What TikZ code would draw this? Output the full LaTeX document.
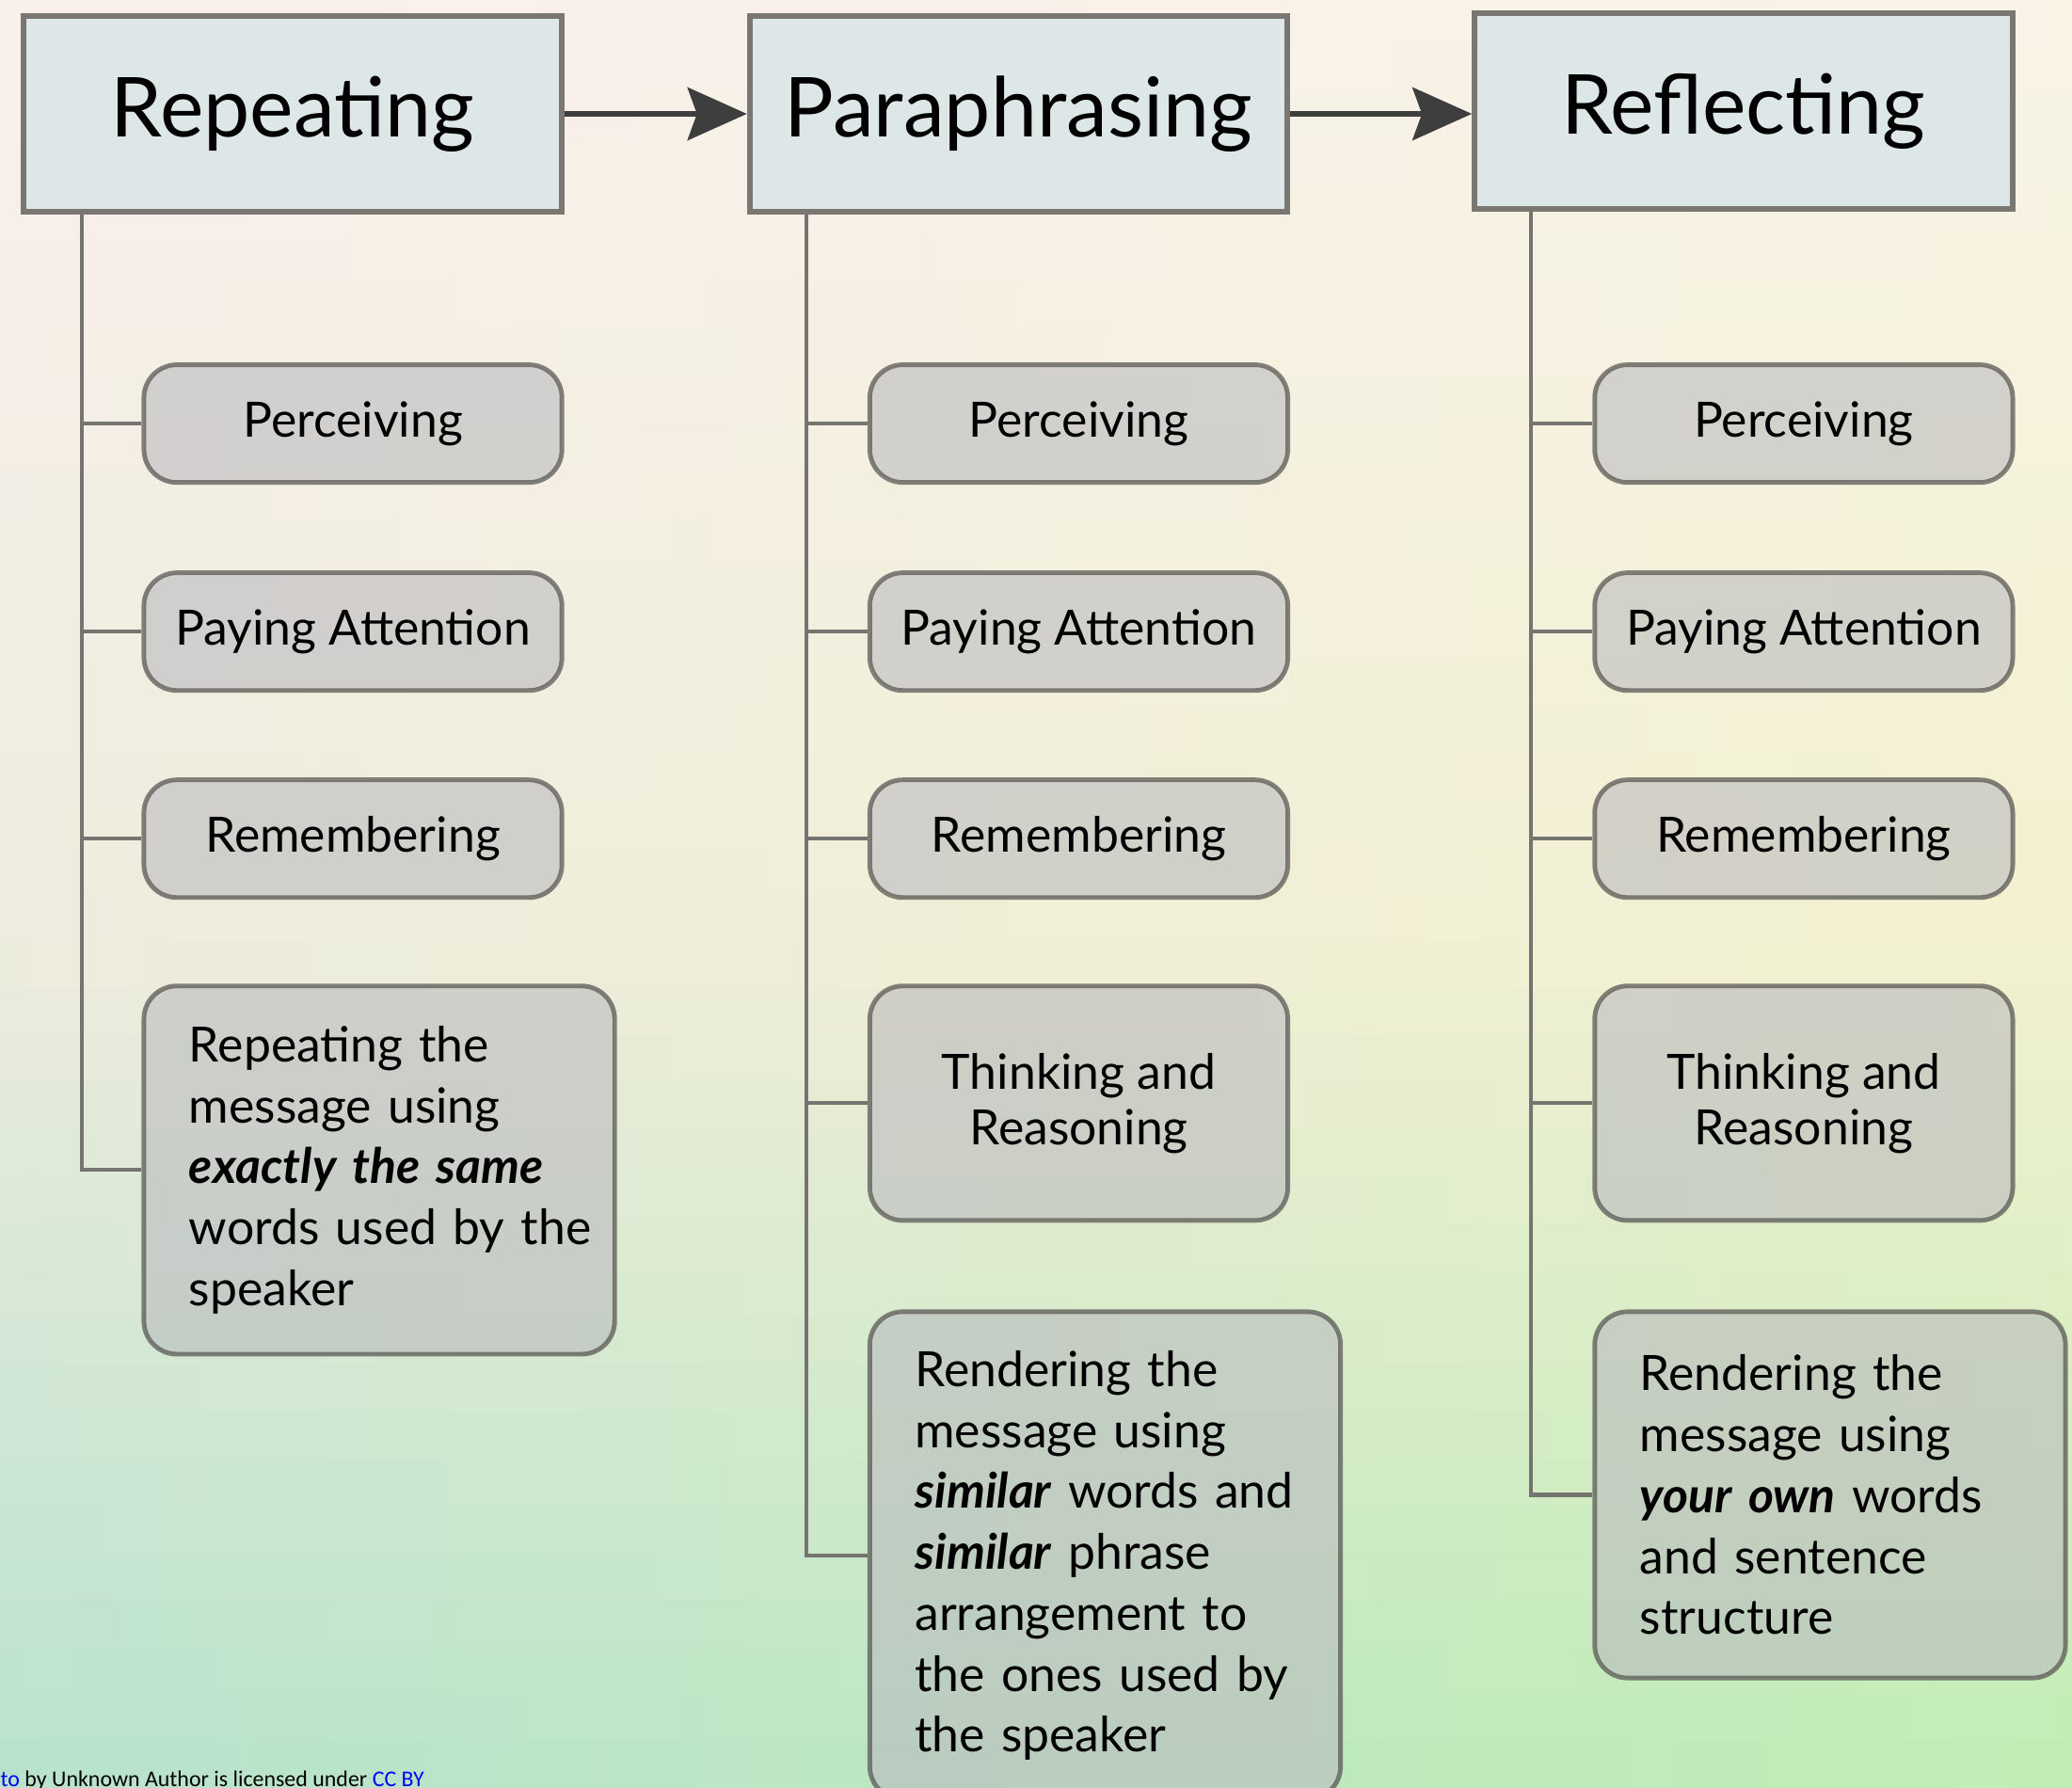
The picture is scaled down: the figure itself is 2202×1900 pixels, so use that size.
\documentclass[tikz,border=0pt]{standalone}
\usepackage{fontspec}
\setmainfont{Lato}
\newfontfamily\notefont{Carlito}
\usetikzlibrary{positioning,arrows.meta}

\definecolor{headfill}{RGB}{222,231,232}
\definecolor{headline}{RGB}{122,119,115}
\definecolor{boxfill}{RGB}{185,185,190}
\definecolor{boxline}{RGB}{92,90,86}
\definecolor{stemcol}{RGB}{118,116,112}
\definecolor{arrowcol}{RGB}{62,62,62}
\definecolor{linkblue}{RGB}{0,0,255}
\definecolor{bgTL}{RGB}{249,240,236}
\definecolor{bgTR}{RGB}{248,243,230}
\definecolor{bgML}{RGB}{238,236,222}
\definecolor{bgMR}{RGB}{243,241,208}
\definecolor{bgBL}{RGB}{183,226,205}
\definecolor{bgBR}{RGB}{192,237,180}

\begin{document}
\begin{tikzpicture}[x=0.01cm, y=0.01cm,
		headbox/.style={rectangle, draw=headline, fill=headfill, line width=1.7pt,
			minimum width=5.71cm, minimum height=2.08cm, font=\fontsize{25}{30}\selectfont},
		subbox/.style={rectangle, rounded corners=0.35cm, draw=boxline, draw opacity=0.75,
			fill=boxfill, fill opacity=0.57, text opacity=1, line width=1.4pt,
			minimum width=4.44cm, minimum height=1.25cm, align=center,
			font=\fontsize{14.7}{18.4}\selectfont},
		thinkbox/.style={subbox, minimum height=2.49cm, font=\fontsize{14.7}{16.8}\selectfont},
		bigbox/.style={subbox, minimum width=5cm, inner xsep=0.48cm, text width=4.04cm, align=left},
		stem/.style={draw=stemcol, line width=1.2pt},
		flow/.style={draw=arrowcol, line width=1.7pt,
			-{Stealth[length=0.63cm, width=0.56cm, inset=0.1cm]}}
		]

		\useasboundingbox (0,0) rectangle (2202,-1900);
		\clip (0,0) rectangle (2202,-1900);

		% background
		\foreach \i in {0,...,37} {
			\pgfmathsetmacro\t{(50*\i+25)/1900}
			\ifdim\t pt<0.526pt
				\pgfmathsetmacro\p{\t/0.526*100}
				\colorlet{lc}{bgML!\p!bgTL}
				\colorlet{rc}{bgMR!\p!bgTR}
			\else
				\pgfmathsetmacro\p{(\t-0.526)/0.474*100}
				\colorlet{lc}{bgBL!\p!bgML}
				\colorlet{rc}{bgBR!\p!bgMR}
			\fi
			\shade[left color=lc, right color=rc] (0,-50*\i) rectangle (2202,-50*\i-52);
		}

		\node[headbox] (H1) at (311,-121) {Repeating};
		\node[headbox, right=1.94cm of H1] (H2) {Paraphrasing};
		\node[headbox, right=1.93cm of H2, yshift=0.03cm] (H3) {Reflecting};
		\draw[flow] (H1) -- (H2);
		\draw[flow] (H2) -- (H3.west |- H2);

		\node[subbox, below left=1.57cm and 0cm of H1.south east] (P1) {Perceiving};
		\node[subbox, below=0.91cm of P1] (A1) {Paying Attention};
		\node[subbox, below=0.90cm of A1] (R1) {Remembering};
		\node[bigbox, below right=0.89cm and 0cm of R1.south west, minimum height=3.91cm] (X1)
			{Repeating~the\\message~using\\\textbf{\textit{exactly~the~same}}\\words~used~by~the\\speaker};

		\node[subbox, below left=1.57cm and 0cm of H2.south east] (P2) {Perceiving};
		\node[subbox, below=0.91cm of P2] (A2) {Paying Attention};
		\node[subbox, below=0.90cm of A2] (R2) {Remembering};
		\node[thinkbox, below=0.89cm of R2] (T2) {Thinking and\\Reasoning};
		\node[bigbox, below right=0.92cm and 0cm of T2.south west, minimum height=5.18cm] (G2)
			{Rendering~the\\message~using\\\textbf{\textit{similar}}~words~and\\\textbf{\textit{similar}}~phrase\\arrangement~to\\the~ones~used~by\\the~speaker};

		\node[subbox, below left=1.57cm and 0cm of H2.south east -| H3.east] (P3) {Perceiving};
		\node[subbox, below=0.91cm of P3] (A3) {Paying Attention};
		\node[subbox, below=0.90cm of A3] (R3) {Remembering};
		\node[thinkbox, below=0.89cm of R3] (T3) {Thinking and\\Reasoning};
		\node[bigbox, below right=0.92cm and 0cm of T3.south west, minimum height=3.89cm] (G3)
			{Rendering~the\\message~using\\\textbf{\textit{your~own}}~words\\and~sentence\\structure};

		\coordinate (s1) at ([xshift=0.65cm]H1.south west);
		\coordinate (s2) at ([xshift=0.63cm]H2.south west);
		\coordinate (s3) at ([xshift=0.63cm]H3.south west);
		\foreach \n in {P1,A1,R1,X1} \draw[stem] (s1) |- (\n.west);
		\foreach \n in {P2,A2,R2,T2,G2} \draw[stem] (s2) |- (\n.west);
		\foreach \n in {P3,A3,R3,T3,G3} \draw[stem] (s3) |- (\n.west);

		\node[anchor=base west, inner sep=0, font=\notefont\fontsize{6.8}{8}\selectfont] (credit) at (0,-1898)
			{\textcolor{linkblue}{to} by Unknown Author is licensed under \textcolor{linkblue}{CC BY}};
	\end{tikzpicture}
\end{document}
